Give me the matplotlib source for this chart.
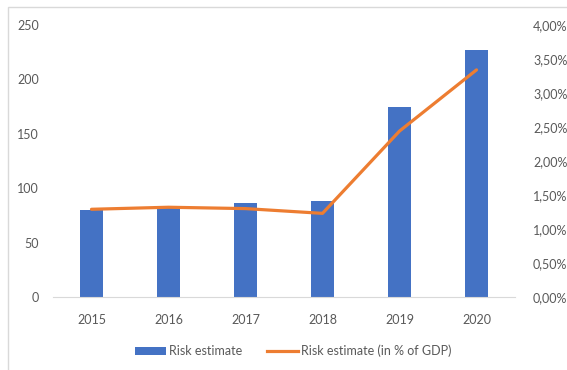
import matplotlib.pyplot as plt
from matplotlib.patches import Patch, Rectangle
from matplotlib.lines import Line2D
from matplotlib.ticker import FuncFormatter, MultipleLocator

years = ['2015', '2016', '2017', '2018', '2019', '2020']
risk_estimate = [80, 83, 86, 88, 175, 227]
risk_pct_gdp = [1.29, 1.32, 1.30, 1.23, 2.44, 3.34]

bar_color = '#4472C4'
line_color = '#ED7D31'
text_color = '#595959'

plt.rcParams['font.family'] = ['Lato', 'DejaVu Sans']
plt.rcParams['font.size'] = 9

W, H = 567, 370
fig = plt.figure(figsize=(W / 100, H / 100), dpi=100)

# light chart-area frame
fig.patches.append(Rectangle((8 / W, -0.1), 1.2, 1 - 7 / H + 0.1, transform=fig.transFigure,
                             fill=False, edgecolor='#D9D9D9', linewidth=1))

ax1 = fig.add_axes([53 / W, 73 / H, 462 / W, 272 / H])
x = range(len(years))
ax1.bar(x, risk_estimate, width=0.3, color=bar_color, zorder=2)
ax1.set_xlim(-0.5, len(years) - 0.5)
ax1.set_ylim(0, 250)
ax1.yaxis.set_major_locator(MultipleLocator(50))
ax1.set_xticks(list(x))
ax1.set_xticklabels(years)

ax2 = ax1.twinx()
ax2.plot(x, risk_pct_gdp, color=line_color, linewidth=2.3, solid_capstyle='round', zorder=3)
ax2.set_ylim(0, 4)
ax2.yaxis.set_major_locator(MultipleLocator(0.5))
ax2.yaxis.set_major_formatter(FuncFormatter(lambda v, p: ('%.2f%%' % v).replace('.', ',')))

for ax in (ax1, ax2):
    for s in ax.spines.values():
        s.set_visible(False)
    ax.tick_params(length=0, colors=text_color, labelsize=9)
ax1.spines['bottom'].set_visible(True)
ax1.spines['bottom'].set_color('#D9D9D9')
ax1.tick_params(axis='x', pad=12)
ax1.tick_params(axis='y', pad=10)
ax2.tick_params(axis='y', pad=13)

handles = [Patch(facecolor=bar_color, edgecolor='none'),
           Line2D([0], [0], color=line_color, linewidth=2.3)]
fig.legend(handles, ['Risk estimate', 'Risk estimate (in % of GDP)'],
           loc='center', bbox_to_anchor=(293 / W, 1 - 351 / H), ncol=2, frameon=False,
           handlelength=2.5, handletextpad=0.2, columnspacing=2.0, labelcolor=text_color)

fig.savefig('out.png', dpi=100)
